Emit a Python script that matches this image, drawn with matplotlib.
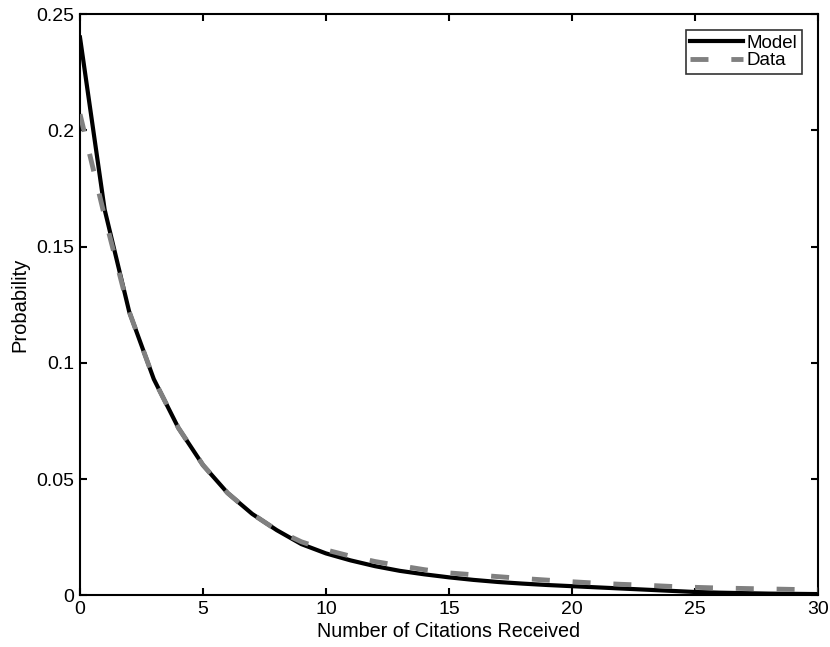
import matplotlib
matplotlib.use("Agg")
import matplotlib.pyplot as plt

citations = list(range(0, 31))
model = [0.240, 0.166, 0.122, 0.093, 0.072, 0.056, 0.044, 0.035, 0.028, 0.022,
         0.018, 0.015, 0.0125, 0.0105, 0.0090, 0.0077, 0.0066, 0.0057, 0.0050, 0.0044,
         0.0039, 0.0034, 0.0029, 0.0024, 0.0019, 0.0014, 0.0011, 0.0009, 0.0007, 0.0006,
         0.0005]
data = [0.207, 0.163, 0.122, 0.093, 0.072, 0.056, 0.044, 0.035, 0.028, 0.023,
        0.0195, 0.0168, 0.0145, 0.0127, 0.0110, 0.0096, 0.0088, 0.0080, 0.0072, 0.0065,
        0.0058, 0.0052, 0.0047, 0.0043, 0.0038, 0.0034, 0.0031, 0.0029, 0.0027, 0.0025,
        0.0023]
xticks = [0, 5, 10, 15, 20, 25, 30]
yticks = [0, 0.05, 0.1, 0.15, 0.2, 0.25]
ytick_labels = ["0", "0.05", "0.1", "0.15", "0.2", "0.25"]

plt.rcParams['font.family'] = ['Liberation Sans', 'DejaVu Sans']

fig = plt.figure(figsize=(8.30, 6.47), dpi=100)
ax = fig.add_axes([0.0964, 0.080, 0.889, 0.898])

ax.plot(citations, model, color='black', lw=3.0, label='Model', zorder=3)
ax.plot(citations, data, color='#808080', lw=3.5, dashes=(3.7, 4.7), label='Data', zorder=4)

ax.set_xlim(0, 30)
ax.set_ylim(0, 0.25)
ax.set_xticks(xticks)
ax.set_xticklabels([str(t) for t in xticks])
ax.set_yticks(yticks)
ax.set_yticklabels(ytick_labels)
ax.tick_params(direction='in', length=5, width=1.5, top=True, right=True,
               labelsize=14, pad=4)
for s in ax.spines.values():
    s.set_linewidth(1.5)

ax.set_xlabel('Number of Citations Received', fontsize=14.2, labelpad=3)
ax.set_ylabel('Probability', fontsize=14.5, labelpad=5)

leg = ax.legend(loc='upper right', fontsize=13.5, frameon=True, fancybox=False,
                edgecolor='black', handlelength=2.8, handletextpad=0.2,
                borderpad=0.25, labelspacing=0.0, borderaxespad=0.85)
leg.get_frame().set_linewidth(1.2)

fig.savefig('out.png', dpi=100)
